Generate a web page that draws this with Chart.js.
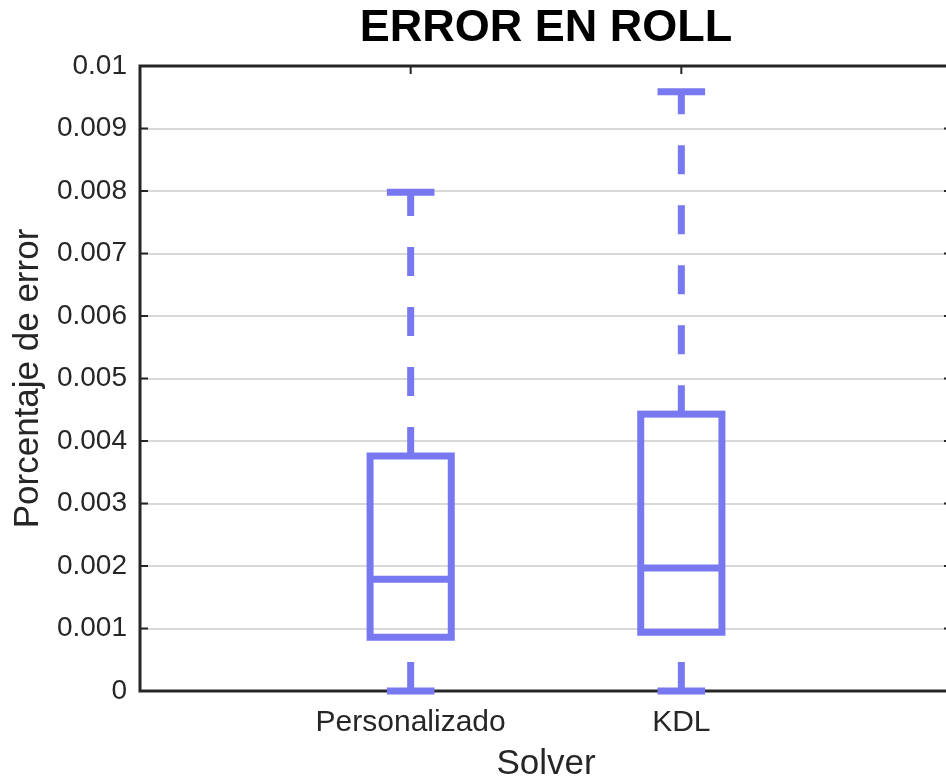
<!DOCTYPE html>
<html>
<head>
<meta charset="utf-8">
<title>ERROR EN ROLL</title>
<script src="https://cdn.jsdelivr.net/npm/chart.js@4.4.1/dist/chart.umd.min.js"></script>
<style>
  html, body { margin: 0; padding: 0; background: #ffffff; overflow: hidden; }
  #wrap { width: 946px; height: 779px; overflow: hidden; position: relative; }
  canvas { display: block; }
</style>
</head>
<body>
<div id="wrap"><canvas id="chart" width="960" height="779"></canvas></div>
<script>
// Box-plot statistics per solver
const categories   = ['Personalizado', 'KDL'];
const positions    = [1, 2];
const lowerWhisker = [0, 0];
const q1           = [0.00086, 0.00094];
const medians      = [0.00179, 0.00197];
const q3           = [0.00376, 0.00443];
const upperWhisker = [0.00798, 0.00959];

// Y-axis ticks
const yTickValues = [0, 0.001, 0.002, 0.003, 0.004, 0.005, 0.006, 0.007, 0.008, 0.009, 0.01];
const yTickLabels = ['0', '0.001', '0.002', '0.003', '0.004', '0.005', '0.006', '0.007', '0.008', '0.009', '0.01'];

const FONT = '"Liberation Sans", Arial, Helvetica, sans-serif';
const AXIS_COLOR = '#262626';
const BOX_COLOR = '#7878F0';
const BOX_WIDTH = 0.3;   // in x-axis units
const CAP_WIDTH = 0.15;  // in x-axis units
const LINE_W = 7;

// Axes frame with inward tick marks
const framePlugin = {
  id: 'frame',
  beforeDatasetsDraw(chart) {
    const { ctx, chartArea: a, scales: { x, y } } = chart;
    ctx.save();
    ctx.strokeStyle = AXIS_COLOR;
    ctx.lineWidth = 3;
    ctx.lineCap = 'square';
    ctx.strokeRect(a.left, a.top, a.right - a.left, a.bottom - a.top);
    ctx.lineWidth = 2;
    ctx.lineCap = 'butt';
    const tl = 8;
    ctx.beginPath();
    yTickValues.forEach(v => {
      const py = y.getPixelForValue(v);
      ctx.moveTo(a.left, py); ctx.lineTo(a.left + tl, py);
      ctx.moveTo(a.right, py); ctx.lineTo(a.right - tl, py);
    });
    positions.forEach(v => {
      const px = x.getPixelForValue(v);
      ctx.moveTo(px, a.top); ctx.lineTo(px, a.top + tl);
      ctx.moveTo(px, a.bottom); ctx.lineTo(px, a.bottom - tl);
    });
    ctx.stroke();
    ctx.restore();
  }
};

// Boxes, medians, dashed whiskers and caps
const boxPlugin = {
  id: 'boxes',
  afterDatasetsDraw(chart) {
    const { ctx, scales: { x, y } } = chart;
    ctx.save();
    ctx.strokeStyle = BOX_COLOR;
    ctx.lineWidth = LINE_W;
    categories.forEach((_, i) => {
      const p = positions[i];
      const cx = x.getPixelForValue(p);
      const bl = x.getPixelForValue(p - BOX_WIDTH / 2);
      const br = x.getPixelForValue(p + BOX_WIDTH / 2);
      const cl = x.getPixelForValue(p - CAP_WIDTH / 2);
      const cr = x.getPixelForValue(p + CAP_WIDTH / 2);
      const yLo = y.getPixelForValue(lowerWhisker[i]);
      const yQ1 = y.getPixelForValue(q1[i]);
      const yMed = y.getPixelForValue(medians[i]);
      const yQ3 = y.getPixelForValue(q3[i]);
      const yHi = y.getPixelForValue(upperWhisker[i]);

      // whiskers
      ctx.lineCap = 'butt';
      ctx.setLineDash([29, 31]);
      ctx.beginPath();
      ctx.moveTo(cx, yQ3); ctx.lineTo(cx, yHi);
      ctx.stroke();
      ctx.beginPath();
      ctx.moveTo(cx, yLo); ctx.lineTo(cx, yQ1);
      ctx.stroke();
      ctx.setLineDash([]);

      // caps
      ctx.lineCap = 'square';
      ctx.beginPath();
      ctx.moveTo(cl, yHi); ctx.lineTo(cr, yHi);
      ctx.moveTo(cl, yLo); ctx.lineTo(cr, yLo);
      ctx.stroke();

      // box
      ctx.lineJoin = 'miter';
      ctx.strokeRect(bl, yQ3, br - bl, yQ1 - yQ3);

      // median
      ctx.lineCap = 'butt';
      ctx.beginPath();
      ctx.moveTo(bl, yMed); ctx.lineTo(br, yMed);
      ctx.stroke();
    });
    ctx.restore();
  }
};

new Chart(document.getElementById('chart'), {
  type: 'scatter',
  data: { datasets: [] },
  options: {
    responsive: false,
    animation: false,
    devicePixelRatio: 1,
    layout: { padding: { left: 0, right: 8, top: 0, bottom: 0 } },
    plugins: {
      legend: { display: false },
      tooltip: { enabled: false },
      title: {
        display: true,
        fullSize: false,
        text: 'ERROR EN ROLL',
        color: '#000000',
        font: { family: FONT, size: 45, weight: 'bold', lineHeight: 1.2 },
        padding: { top: 2, bottom: 10 }
      }
    },
    scales: {
      x: {
        type: 'linear',
        min: 0,
        max: 3,
        afterBuildTicks: s => { s.ticks = positions.map(v => ({ value: v })); },
        afterFit: s => { s.height = 88; },
        ticks: {
          autoSkip: false,
          maxRotation: 0,
          padding: 14,
          color: AXIS_COLOR,
          font: { family: FONT, size: 30 },
          callback: v => { const k = positions.indexOf(v); return k >= 0 ? categories[k] : ''; }
        },
        grid: { display: false, drawTicks: false },
        border: { display: false },
        title: {
          display: true,
          text: 'Solver',
          color: AXIS_COLOR,
          font: { family: FONT, size: 35, lineHeight: 0.85 },
          padding: { top: 0, bottom: 0 }
        }
      },
      y: {
        type: 'linear',
        min: 0,
        max: 0.01,
        afterBuildTicks: s => { s.ticks = yTickValues.map(v => ({ value: v })); },
        afterFit: s => { s.width = 140; },
        ticks: {
          padding: 13,
          color: AXIS_COLOR,
          font: { family: FONT, size: 28 },
          callback: (v, idx) => yTickLabels[idx]
        },
        grid: { color: '#d9d9d9', lineWidth: 2, drawTicks: false },
        border: { display: false },
        title: {
          display: true,
          text: 'Porcentaje de error',
          color: AXIS_COLOR,
          font: { family: FONT, size: 35, lineHeight: 1.2 },
          padding: { top: 7, bottom: 0 }
        }
      }
    }
  },
  plugins: [framePlugin, boxPlugin]
});
</script>
</body>
</html>
